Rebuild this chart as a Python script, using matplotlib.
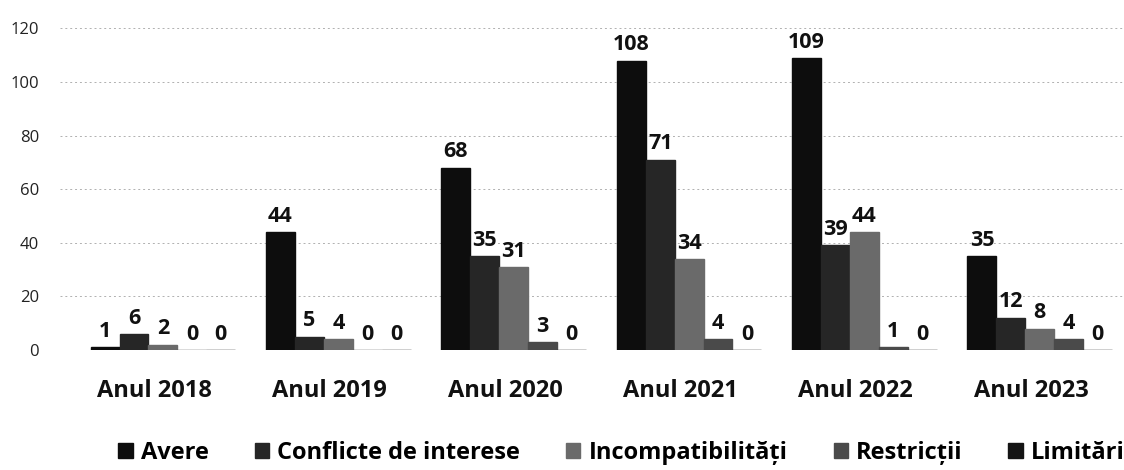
import matplotlib
matplotlib.use("Agg")
import matplotlib.pyplot as plt
import numpy as np

categories = ["Anul 2018", "Anul 2019", "Anul 2020", "Anul 2021", "Anul 2022", "Anul 2023"]
series_names = ["Avere", "Conflicte de interese", "Incompatibilități", "Restricții", "Limitări"]
avere = [1, 44, 68, 108, 109, 35]
conflicte = [6, 5, 35, 71, 39, 12]
incompat = [2, 4, 31, 34, 44, 8]
restrictii = [0, 0, 3, 4, 1, 4]
limitari = [0, 0, 0, 0, 0, 0]
yticks = [0, 20, 40, 60, 80, 100, 120]

series = [avere, conflicte, incompat, restrictii, limitari]
colors = ["#0d0d0d", "#262626", "#6a6a6a", "#4a4a4a", "#141414"]

plt.rcParams['font.family'] = ['Open Sans', 'DejaVu Sans']

fig = plt.figure(figsize=(11.24, 4.70), dpi=100)
ax = fig.add_axes([60 / 1124, 1 - 350 / 470, 1064 / 1124, 335 / 470])

x = np.arange(len(categories))
w = 0.165
offsets = (np.arange(len(series)) - 2) * w
for s, vals, col, name in zip(range(len(series)), series, colors, series_names):
    pos = x + offsets[s]
    ax.bar(pos, vals, width=w, color=col, edgecolor=col, label=name, zorder=3)
    for px, v in zip(pos, vals):
        ax.text(px, v + 2, str(v), ha="center", va="bottom", fontsize=15.5,
                fontweight="bold", color="#111111", zorder=4)

ax.set_ylim(0, 125)
ax.set_xlim(-0.587, 5.48)
ax.set_yticks(yticks)
ax.set_yticklabels([str(t) for t in yticks], fontsize=12, color="#222222")
ax.set_xticks(x - 0.05)
ax.set_xticklabels(categories, fontsize=17, fontweight="bold", color="#111111")
ax.tick_params(axis="both", length=0)
ax.tick_params(axis="x", pad=21)
ax.tick_params(axis="y", pad=15)
ax.yaxis.grid(True, linestyle=(0, (2, 3)), color="#b0b0b0", linewidth=0.7, zorder=0)
for sp in ax.spines.values():
    sp.set_visible(False)

handles, labels = ax.get_legend_handles_labels()
leg = fig.legend(handles, labels, loc="lower center", bbox_to_anchor=(0.553, -0.035),
                 ncol=5, frameon=False, handlelength=0.6, handleheight=0.6,
                 handletextpad=0.35, columnspacing=1.95,
                 prop={"size": 17, "weight": "bold"})

fig.savefig("out.png", dpi=100)
